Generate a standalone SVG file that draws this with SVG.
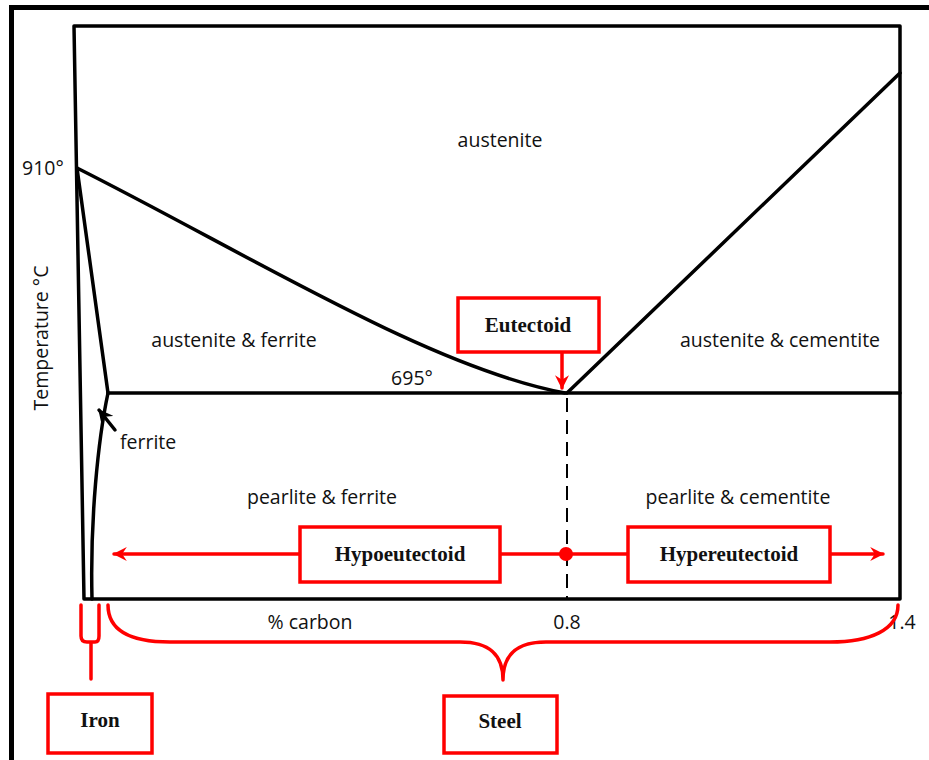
<svg xmlns="http://www.w3.org/2000/svg" width="929" height="760" viewBox="0 0 929 760">
<defs>
<style>
.ln{fill:none;stroke:#000;stroke-width:3.5;stroke-linecap:round;stroke-linejoin:round}
.lbl{font-family:"Open Sans","Noto Sans","Liberation Sans",sans-serif;font-size:19.5px;fill:#111}
.rb{fill:#fff;stroke:#f00;stroke-width:3.5}
.rl{fill:none;stroke:#f00;stroke-width:3.5;stroke-linecap:round;stroke-linejoin:round}
.bt{font-family:"Liberation Serif","Times New Roman",serif;font-weight:bold;font-size:21px;fill:#111;text-anchor:middle}
</style>
<marker id="ah" viewBox="0 0 12 12" refX="11" refY="6" markerWidth="14" markerHeight="14" markerUnits="userSpaceOnUse" orient="auto">
<path d="M0,0 L12,6 L0,12 L4,6 Z" fill="#f00"/>
</marker>
<marker id="bh" viewBox="0 0 12 12" refX="11" refY="6" markerWidth="15" markerHeight="15" markerUnits="userSpaceOnUse" orient="auto">
<path d="M0,0 L12,6 L0,12 L4,6 Z" fill="#000"/>
</marker>
</defs>
<rect width="929" height="760" fill="#fff"/>
<rect x="9" y="5" width="920" height="5" fill="#000"/>
<rect x="9" y="5" width="5" height="755" fill="#000"/>

<g id="diagram">
<path class="ln" d="M84,599 L74,26 L900,26 L900,599 Z"/>
<path class="ln" d="M77,168 C250,255 430,368 565,393"/>
<path class="ln" d="M77,168 L108,393"/>
<path class="ln" d="M108,393 L900,393"/>
<path class="ln" d="M108,393 C98,440 90,520 92,599"/>
<path class="ln" d="M567,393 L900,73"/>
<path d="M567,398 L567,599" fill="none" stroke="#000" stroke-width="2" stroke-dasharray="14,8"/>
<path class="ln" d="M115,430 L99,410" marker-end="url(#bh)" stroke-width="2.5"/>
</g>

<g id="labels">
<text class="lbl" x="22" y="175">910°</text>
<text class="lbl" x="500" y="147" text-anchor="middle">austenite</text>
<text class="lbl" x="234" y="347" text-anchor="middle">austenite &amp; ferrite</text>
<text class="lbl" x="780" y="347" text-anchor="middle">austenite &amp; cementite</text>
<text class="lbl" x="412" y="385" text-anchor="middle">695°</text>
<text class="lbl" x="120" y="449">ferrite</text>
<text class="lbl" x="322" y="504" text-anchor="middle">pearlite &amp; ferrite</text>
<text class="lbl" x="738" y="504" text-anchor="middle">pearlite &amp; cementite</text>
<text class="lbl" x="310" y="629" text-anchor="middle">% carbon</text>
<text class="lbl" x="567" y="629" text-anchor="middle">0.8</text>
<text class="lbl" x="902" y="629" text-anchor="middle">1.4</text>
<text class="lbl" transform="translate(48,338) rotate(-90)" text-anchor="middle">Temperature °C</text>
</g>

<g id="connectors">
<path class="rl" d="M562,352 L562,388" marker-end="url(#ah)"/>
<path class="rl" d="M300,554 L114,554" marker-end="url(#ah)"/>
<path class="rl" d="M500,554 L628,554"/>
<path class="rl" d="M830,554 L883,554" marker-end="url(#ah)"/>
<circle cx="566" cy="554" r="7" fill="#f00"/>
<path class="rl" d="M108,605 C108,630 130,642 170,642 L460,642 C490,642 503,655 503,680 C503,655 516,642 546,642 L830,642 C870,642 898,630 898,605"/>
<path class="rl" d="M81,605 L81,636 Q81,642 87,642 L95,642 Q99,642 99,636 L99,605 M91,642 L91,679"/>
</g>

<g id="eutectoid">
<rect class="rb" x="458" y="298" width="141" height="54"/>
<text class="bt" x="528" y="332">Eutectoid</text>
</g>
<g id="hypoeutectoid">
<rect class="rb" x="300" y="527" width="200" height="55"/>
<text class="bt" x="400" y="561">Hypoeutectoid</text>
</g>
<g id="hypereutectoid">
<rect class="rb" x="628" y="527" width="202" height="55"/>
<text class="bt" x="729" y="561">Hypereutectoid</text>
</g>
<g id="iron">
<rect class="rb" x="48" y="694" width="104" height="59"/>
<text class="bt" x="100" y="727">Iron</text>
</g>
<g id="steel">
<rect class="rb" x="444" y="696" width="113" height="57"/>
<text class="bt" x="500" y="728">Steel</text>
</g>
</svg>
